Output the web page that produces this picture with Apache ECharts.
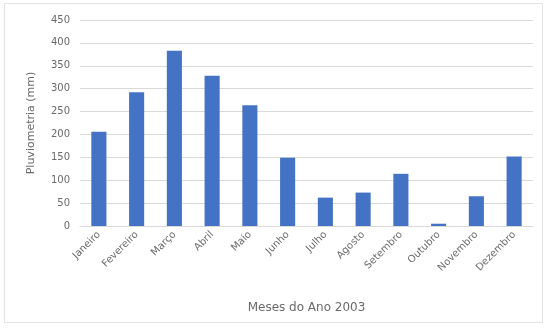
<!DOCTYPE html>
<html><head><meta charset="utf-8">
<script src="https://cdn.jsdelivr.net/npm/echarts@6/dist/echarts.min.js"></script>
<style>html,body{margin:0;padding:0;background:#fff}#c{width:548px;height:333px;}
#f{position:absolute;left:4px;top:3px;width:537px;height:318px;border:1px solid #e3e3e3;pointer-events:none}</style>
</head><body><div id="c"></div><div id="f"></div>
<script>
const categories = ["Janeiro","Fevereiro","Março","Abril","Maio","Junho","Julho","Agosto","Setembro","Outubro","Novembro","Dezembro"];
const values = [206, 292, 383, 328, 264, 149, 62, 73, 114, 5, 65, 152];
const yTicks = {min: 0, max: 450, interval: 50};
const chart = echarts.init(document.getElementById('c'));
const txt = '#6a6a6a';
const font = 'DejaVu Sans';
chart.setOption({
  animation: false,
  grid: {left: 80, right: 15, top: 20, bottom: 107},
  xAxis: {
    type: 'category', data: categories,
    name: 'Meses do Ano 2003', nameLocation: 'middle', nameGap: 76,
    nameTextStyle: {color: txt, fontSize: 12, fontFamily: font},
    axisTick: {show: false},
    axisLine: {lineStyle: {color: '#d9d9d9'}},
    axisLabel: {rotate: 45, color: txt, fontSize: 10, fontFamily: font, interval: 0, margin: 7}
  },
  yAxis: {
    type: 'value', min: yTicks.min, max: yTicks.max, interval: yTicks.interval,
    name: 'Pluviometria (mm)', nameLocation: 'middle', nameGap: 43,
    nameTextStyle: {color: txt, fontSize: 11, fontFamily: font},
    axisLine: {show: false}, axisTick: {show: false},
    axisLabel: {color: txt, fontSize: 10, fontFamily: font, margin: 10},
    splitLine: {lineStyle: {color: '#d9d9d9'}}
  },
  series: [{
    type: 'bar', data: values, barCategoryGap: '60%',
    itemStyle: {color: '#4472c4'}
  }]
});
</script></body></html>
